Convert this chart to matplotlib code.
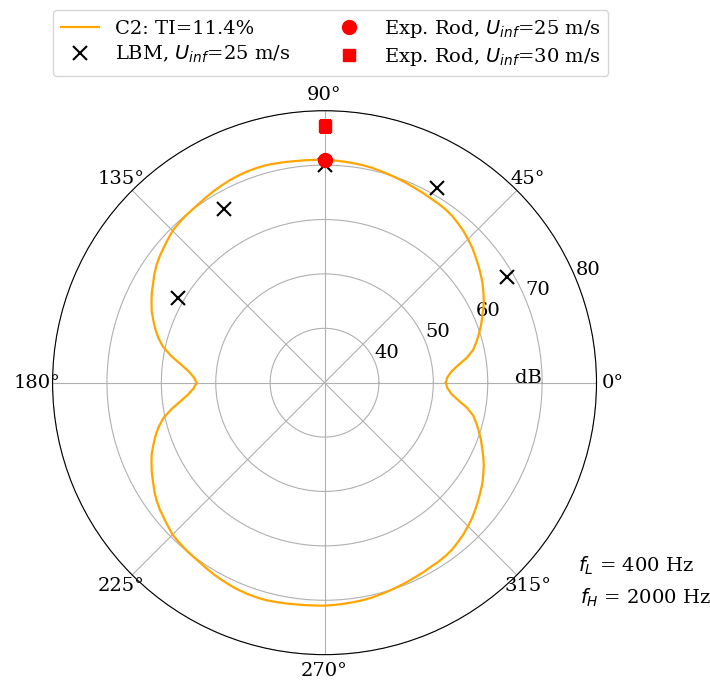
import numpy as np
import matplotlib
matplotlib.use("Agg")
import matplotlib.pyplot as plt

plt.rcParams['font.family'] = ['DejaVu Serif']

# Directivity of case C2: sound pressure level (dB) every 2.5 degrees
theta_deg = np.arange(0, 360.1, 2.5)
spl_upper = [52.3, 52.6, 53.4, 54.8, 56.6, 58.0, 58.9, 59.75, 60.6, 61.35, 62.2, 63.0,
             63.7, 64.4, 65.0, 65.6, 66.2, 66.8, 67.3, 67.8, 68.2, 68.6, 68.85, 69.0,
             69.1, 69.3, 69.45, 69.65, 69.85, 70.05, 70.25, 70.45, 70.6, 70.7, 70.8, 70.9,
             71.0, 71.0, 71.05, 71.1, 71.2, 71.3, 71.4, 71.4, 71.35, 71.25, 71.1, 70.9,
             70.7, 70.45, 70.2, 70.05, 69.9, 69.7, 69.5, 69.05, 68.6, 68.2, 67.7, 67.1,
             66.4, 65.8, 65.1, 64.4, 63.5, 62.6, 61.6, 60.4, 58.7, 56.8, 55.2, 54.1,
             53.5]
spl_lower = [54.1, 55.2, 56.8, 58.7, 60.4, 61.6, 62.6, 63.5, 64.4, 65.1, 65.8, 66.4,
             67.1, 67.7, 68.2, 68.6, 69.05, 69.5, 69.7, 69.9, 70.05, 70.2, 70.45, 70.7,
             70.9, 71.1, 71.25, 71.35, 71.4, 71.4, 71.3, 71.2, 71.1, 71.05, 71.0, 71.0,
             70.9, 70.8, 70.7, 70.6, 70.45, 70.25, 70.05, 69.85, 69.65, 69.45, 69.3, 69.1,
             69.0, 68.85, 68.6, 68.2, 67.8, 67.3, 66.8, 66.2, 65.6, 65.0, 64.4, 63.7,
             63.0, 62.2, 61.35, 60.6, 59.75, 58.9, 58.0, 56.6, 54.8, 53.4, 52.6, 52.3]
spl_c2 = spl_upper + spl_lower

# LBM simulation, U_inf = 25 m/s
lbm_theta = [30, 60, 90, 120, 150]
lbm_spl = [68.7, 71.4, 70.1, 66.8, 61.2]

# Rod experiments
exp25_theta = [90]
exp25_spl = [70.9]
exp30_theta = [90]
exp30_spl = [77.1]

r_ticks = [40, 50, 60, 70, 80]
theta_ticks = [0, 45, 90, 135, 180, 225, 270, 315]
theta_ticklabels = ['0°', '45°', '90°', '135°', '180°', '225°', '270°', '315°']

fig = plt.figure(figsize=(7.10, 6.83), dpi=100)
ax = fig.add_axes([0.0740, 0.0415, 0.7662, 0.7964], projection='polar')

line, = ax.plot(np.radians(theta_deg), spl_c2, color='orange', lw=1.6,
                label='C2: TI=11.4%', zorder=3)
lbm, = ax.plot(np.radians(lbm_theta), lbm_spl, 'x', color='black', ms=10, mew=1.5,
               label=r'LBM, $U_{inf}$=25 m/s', zorder=4)
e25, = ax.plot(np.radians(exp25_theta), exp25_spl, 'o', color='red', ms=10,
               label=r'Exp. Rod, $U_{inf}$=25 m/s', zorder=5)
e30, = ax.plot(np.radians(exp30_theta), exp30_spl, 's', color='red', ms=9,
               label=r'Exp. Rod, $U_{inf}$=30 m/s', zorder=5)

ax.set_rlim(30, 80)
ax.set_rticks(r_ticks)
ax.set_rlabel_position(22.5)
ax.set_thetagrids(theta_ticks, theta_ticklabels)
ax.tick_params(labelsize=14)
ax.tick_params(axis='x', pad=1)
ax.grid(True, color='#b0b0b0', lw=0.8)
ax.text(0, 67.5, 'dB', fontsize=14, ha='center', va='baseline')

fig.legend(handles=[line, lbm, e25, e30], loc='upper center',
           bbox_to_anchor=(0.4655, 0.999), ncol=2, fontsize=14,
           columnspacing=2.0, handletextpad=0.8, labelspacing=0.3,
           borderpad=0.4)

fig.text(578 / 710, 1 - 566 / 683, r'$f_L$ = 400 Hz', fontsize=14, va='center', ha='left')
fig.text(580 / 710, 1 - 598 / 683, r'$f_H$ = 2000 Hz', fontsize=14, va='center', ha='left')

fig.savefig('out.png', dpi=100)
